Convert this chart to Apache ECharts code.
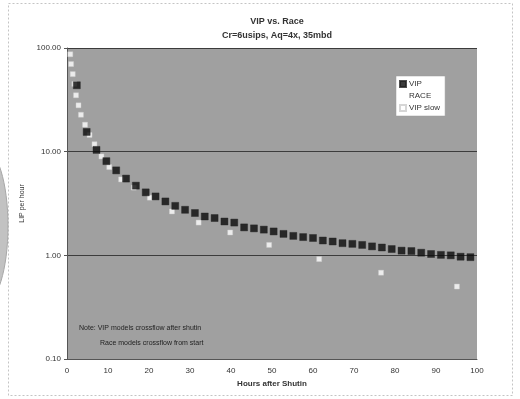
<!DOCTYPE html>
<html>
<head>
<meta charset="utf-8">
<script src="https://cdn.jsdelivr.net/npm/echarts@6/dist/echarts.min.js"></script>
<style>
  html, body { margin: 0; padding: 0; background: #ffffff; }
  #chart { width: 520px; height: 399px; }
</style>
</head>
<body>
<div id="chart"></div>
<script>
// VIP run: sampled every 0.1 day (2.4 h)
const vipHours = [2.4, 4.8, 7.2, 9.6, 12.0, 14.4, 16.8, 19.2, 21.6, 24.0,
  26.4, 28.8, 31.2, 33.6, 36.0, 38.4, 40.8, 43.2, 45.6, 48.0,
  50.4, 52.8, 55.2, 57.6, 60.0, 62.4, 64.8, 67.2, 69.6, 72.0,
  74.4, 76.8, 79.2, 81.6, 84.0, 86.4, 88.8, 91.2, 93.6, 96.0, 98.4];
const vipRate = [43.7, 15.5, 10.4, 8.1, 6.6, 5.5, 4.7, 4.05, 3.70, 3.31,
  3.00, 2.75, 2.56, 2.37, 2.29, 2.12, 2.07, 1.86, 1.82, 1.77,
  1.70, 1.61, 1.54, 1.50, 1.47, 1.39, 1.36, 1.31, 1.29, 1.26,
  1.22, 1.19, 1.15, 1.11, 1.10, 1.06, 1.03, 1.01, 1.00, 0.97, 0.96];

// VIP slow run: log-spaced report times
const slowHours = [0.8, 1.0, 1.4, 1.8, 2.2, 2.8, 3.4, 4.4, 5.5, 6.7,
  8.4, 10.3, 13.2, 16.3, 20.2, 25.6, 32.1, 39.8, 49.3, 61.5, 76.6, 95.1];
const slowRate = [87, 70, 56, 45, 35, 28, 22.7, 18.2, 14.5, 11.8,
  9.0, 7.1, 5.4, 4.5, 3.6, 2.65, 2.07, 1.66, 1.26, 0.92, 0.68, 0.50];

// RACE run (no plotted points in this view)
const raceHours = [];
const raceRate = [];

const xTicks = [0, 100, 10];          // min, max, step
const yTicks = [0.1, 100];            // log axis range

const pair = (xs, ys) => xs.map((x, i) => [x, ys[i]]);

const chart = echarts.init(document.getElementById('chart'), null, { renderer: 'canvas' });
const txt = '#333333';
const font = 'Liberation Sans, Arial, sans-serif';

chart.setOption({
  backgroundColor: '#ffffff',
  animation: false,
  title: {
    text: 'VIP vs. Race\nCr=6usips, Aq=4x, 35mbd',
    left: 272, top: 10, textAlign: 'center',
    textStyle: { fontFamily: font, fontSize: 9, fontWeight: 'bold', color: txt, lineHeight: 14 }
  },
  grid: { left: 67, right: 43, top: 48, bottom: 40, show: true, backgroundColor: '#a0a0a0', borderColor: '#777', borderWidth: 0 },
  legend: {
    orient: 'vertical', left: 396, top: 76,
    backgroundColor: '#ffffff', borderColor: '#999', borderWidth: 0.5,
    padding: [4, 5, 4, 3], itemGap: 4, itemWidth: 6, itemHeight: 6,
    textStyle: { fontFamily: font, fontSize: 8, color: txt, padding: [0, 0, 0, -2] },
    data: [
      { name: 'VIP', icon: 'rect' },
      { name: 'RACE', icon: 'rect', itemStyle: { color: 'rgba(0,0,0,0)', borderWidth: 0 } },
      { name: 'VIP slow', icon: 'rect' }
    ]
  },
  xAxis: {
    type: 'value', min: xTicks[0], max: xTicks[1], interval: xTicks[2],
    name: 'Hours after Shutin', nameLocation: 'middle', nameGap: 16,
    nameTextStyle: { fontFamily: font, fontSize: 8, fontWeight: 'bold', color: txt },
    axisLine: { show: true, lineStyle: { color: '#555', width: 1 } },
    axisTick: { show: false },
    axisLabel: { fontFamily: font, fontSize: 8, color: txt, margin: 8 },
    splitLine: { show: false }
  },
  yAxis: {
    type: 'log', logBase: 10, min: yTicks[0], max: yTicks[1],
    name: 'LIP per hour', nameLocation: 'middle', nameGap: 37, nameRotate: 90,
    nameTextStyle: { fontFamily: font, fontSize: 7, color: txt },
    axisLine: { show: true, lineStyle: { color: '#555', width: 1 } },
    axisTick: { show: true, length: 3, lineStyle: { color: '#555' } },
    axisLabel: { fontFamily: font, fontSize: 8, color: txt, margin: 6, formatter: v => Number(v).toFixed(2) },
    splitLine: { show: true, lineStyle: { color: '#3c3c3c', width: 1 } },
    minorTick: { show: false }
  },
  graphic: [
    { type: 'rect', shape: { x: 8.5, y: 3.5, width: 504, height: 392 }, style: { fill: 'none', stroke: '#c4c4c4', lineWidth: 1, lineDash: [2, 2] }, z: -1 },
    { type: 'ellipse', shape: { cx: -16, cy: 226, rx: 24, ry: 78 }, style: { fill: '#c2c2c2', stroke: '#a8a8a8' }, z: -1 },
    { type: 'text', left: 79, top: 325, style: { text: 'Note: VIP models crossflow after shutin', fontFamily: font, fontSize: 7, fill: '#222' } },
    { type: 'text', left: 100, top: 340, style: { text: 'Race models crossflow from start', fontFamily: font, fontSize: 7, fill: '#222' } }
  ],
  series: [
    {
      name: 'VIP', type: 'scatter', data: pair(vipHours, vipRate),
      symbol: 'rect', symbolSize: 7, z: 3,
      itemStyle: { color: '#0a0a0a', borderColor: '#222', borderWidth: 0.5 }
    },
    {
      name: 'RACE', type: 'scatter', data: pair(raceHours, raceRate),
      symbol: 'rect', symbolSize: 6, z: 2,
      itemStyle: { color: 'rgba(0,0,0,0)' }
    },
    {
      name: 'VIP slow', type: 'scatter', data: pair(slowHours, slowRate),
      symbol: 'rect', symbolSize: 5, z: 2,
      itemStyle: { color: '#ffffff', borderColor: '#cccccc', borderWidth: 0.5 }
    }
  ]
});
</script>
</body>
</html>
